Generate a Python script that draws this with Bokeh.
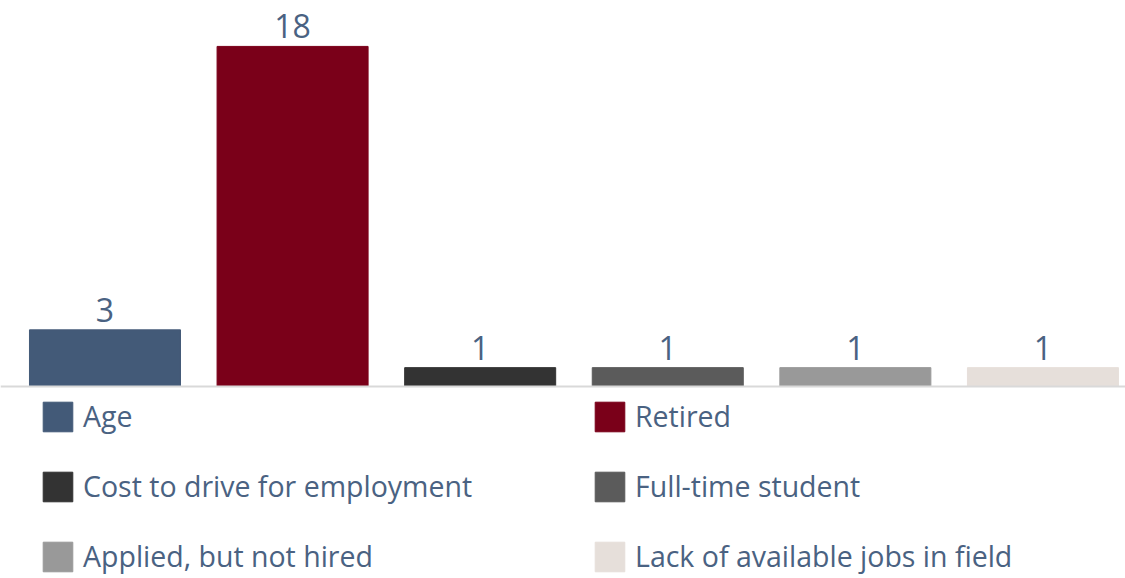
from bokeh.plotting import figure
from bokeh.models import ColumnDataSource, Range1d, Span, Legend, LegendItem, LabelSet
from bokeh.core.properties import value
from bokeh.embed import file_html
from bokeh.resources import INLINE

categories = ["Age", "Retired", "Cost to drive for employment", "Full-time student",
              "Applied, but not hired", "Lack of available jobs in field"]
values = [3, 18, 1, 1, 1, 1]
colors = ["#435a78", "#7a0019", "#333333", "#5b5b5b", "#999999", "#e6dfda"]

FONT = "Open Sans"
TXT = "#4a6282"

src = ColumnDataSource(dict(x=[i + 0.5 for i in range(len(values))], top=values,
                            color=colors, cat=categories,
                            lbl=[str(v) for v in values]))

p = figure(width=1125, height=578, output_backend="svg", toolbar_location=None,
           x_range=Range1d(-0.057, 5.94), y_range=Range1d(-10.16, 20.43),
           min_border=0, min_border_left=0, min_border_right=0,
           min_border_top=0, min_border_bottom=0)
p.axis.visible = False
p.grid.visible = False
p.outline_line_color = None
p.background_fill_color = "white"
p.border_fill_color = "white"

p.add_layout(Span(location=0, dimension="width", line_color="#d9d9d9", line_width=2))

renderers = []
for i in range(len(values)):
    view_src = ColumnDataSource(dict(x=[src.data["x"][i]], top=[values[i]], color=[colors[i]]))
    r = p.vbar(x="x", top="top", bottom=0, width=0.805, color="color", source=view_src)
    renderers.append(r)

labels = LabelSet(x="x", y="top", text="lbl", source=src, text_align="center",
                  text_baseline="alphabetic", y_offset=8, text_font=value(FONT),
                  text_font_size="32px", text_color=TXT)
p.add_layout(labels)

def make_legend(idx, loc):
    items = [LegendItem(label=categories[i], renderers=[renderers[i]]) for i in idx]
    lg = Legend(items=items, location=loc, orientation="vertical",
                glyph_width=37, glyph_height=37, label_standoff=7,
                spacing=32, padding=0, margin=0,
                border_line_alpha=0, background_fill_alpha=0,
                label_text_font=FONT, label_text_font_size="28.5px",
                label_text_color=TXT, label_height=37)
    return lg

p.add_layout(make_legend([0, 2, 4], (39, 3)))
p.add_layout(make_legend([1, 3, 5], (591, 3)))

open("out.html", "w").write(file_html(p, INLINE))
